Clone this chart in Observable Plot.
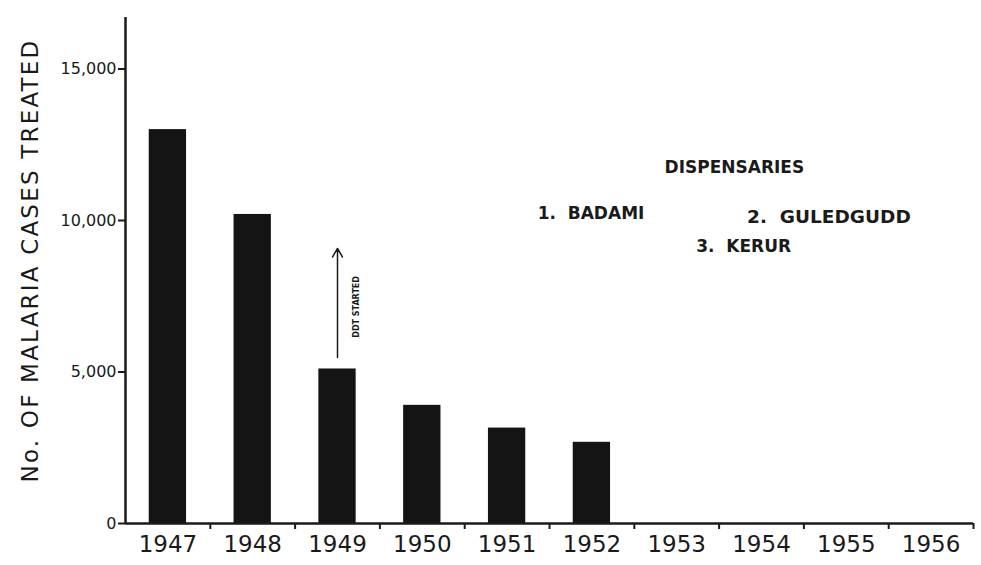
<!DOCTYPE html>
<html>
<head>
<meta charset="utf-8">
<script src="https://cdn.jsdelivr.net/npm/d3@7"></script>
<script src="https://cdn.jsdelivr.net/npm/@observablehq/plot@0.6"></script>
<style>
  html, body { margin: 0; padding: 0; background: #ffffff; }
  #chart svg { display: block; }
</style>
</head>
<body>
<div id="chart"></div>
<script>
const years = [1947, 1948, 1949, 1950, 1951, 1952, 1953, 1954, 1955, 1956];
const cases = [13000, 10200, 5100, 3900, 3150, 2680, 0, 0, 0, 0];
const yTicks = [0, 5000, 10000, 15000];
const yLabel = "No. OF MALARIA CASES TREATED";
const legendTitle = "DISPENSARIES";
const dispensaries = ["1.  BADAMI", "2.  GULEDGUDD", "3.  KERUR"];
const ddtYear = 1949;
const ddtLabel = "DDT STARTED";

const data = years.map((year, i) => ({year, cases: cases[i]}));
const boundaries = years.map(y => y + 0.5);
const ink = "#1a1a1a";
const font = "DejaVu Sans";

const chart = Plot.plot({
  width: 981,
  height: 565,
  marginLeft: 125,
  marginRight: 8,
  marginTop: 17,
  marginBottom: 42,
  style: {background: "#ffffff", fontFamily: font, color: ink},
  x: {type: "linear", domain: [years[0] - 0.5, years[years.length - 1] + 0.5]},
  y: {domain: [0, 16700]},
  marks: [
    Plot.rectY(data, {x1: d => d.year - 0.22, x2: d => d.year + 0.22, y: "cases", fill: "#141414"}),
    Plot.ruleX([years[0] - 0.5], {y1: 0, y2: 16700, stroke: ink, strokeWidth: 2.5}),
    Plot.ruleY([0], {stroke: ink, strokeWidth: 2.5}),
    Plot.axisY({ticks: yTicks, tickFormat: d3.format(","), tickSize: 7, tickPadding: 2, fontSize: 16, label: null, strokeWidth: 2}),
    Plot.axisX({ticks: years, tickSize: 0, tickPadding: 12, tickFormat: d => String(d), fontSize: 23, label: null}),
    Plot.axisX({ticks: boundaries, tickSize: 6, tickFormat: () => "", label: null, strokeWidth: 2}),
    Plot.text([yLabel], {frameAnchor: "left", textAnchor: "middle", rotate: -90, dx: -95, dy: -10, fontSize: 23, fill: ink}),
    Plot.text([legendTitle], {x: 1953.68, y: 11750, fontSize: 17, fontWeight: "bold", fill: ink}),
    Plot.text([dispensaries[0]], {x: 1951.36, y: 10230, textAnchor: "start", fontSize: 17, fontWeight: "bold", fill: ink}),
    Plot.text([dispensaries[1]], {x: 1953.83, y: 10100, textAnchor: "start", fontSize: 18.5, fontWeight: "bold", fill: ink}),
    Plot.text([dispensaries[2]], {x: 1953.23, y: 9140, textAnchor: "start", fontSize: 17, fontWeight: "bold", fill: ink}),
    Plot.arrow([{year: ddtYear}], {x1: "year", x2: "year", y1: 5480, y2: 9080, stroke: ink, strokeWidth: 1.5, headLength: 10}),
    Plot.text([{year: ddtYear}], {x: "year", y: 7150, text: () => ddtLabel, rotate: -90, dx: 19, fontSize: 8, fontWeight: "bold", fill: ink})
  ]
});
chart.querySelectorAll("text").forEach(t => {
  t.setAttribute("xml:space", "preserve");
  t.style.whiteSpace = "pre";
  if (t.textContent === yLabel) t.setAttribute("letter-spacing", "2.2");
});
document.getElementById("chart").appendChild(chart);
</script>
</body>
</html>
